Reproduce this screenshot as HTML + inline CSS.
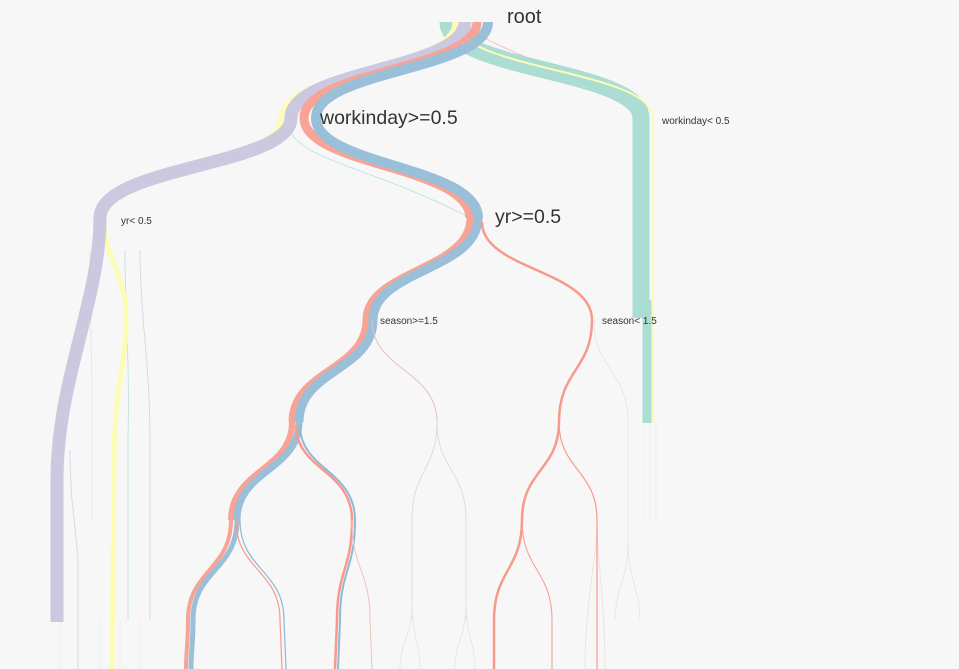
<!DOCTYPE html>
<html><head><style>
html,body{margin:0;padding:0;background:#f7f7f7;}
svg{display:block;}
text{font-family:"Liberation Sans",sans-serif;fill:#333;}
</style></head><body>
<svg width="959" height="669" viewBox="0 0 959 669" xmlns="http://www.w3.org/2000/svg">
<g fill="none" stroke-linecap="butt">
<g stroke-width="1" opacity="0.6">
<path d="M372 320 C372 370,437 370,437 422 C437 470,412 470,412 520 L412 620" stroke="#ccc"/>
<path d="M437 422 C437 470,466 470,466 520 L466 620" stroke="#e8c4c4"/>
<path d="M412 600 C412 640,400 640,400 669 M412 600 C412 640,420 640,420 669 M466 600 C466 640,455 640,455 669 M466 600 C466 640,475 640,475 669" stroke="#ddd"/>
<path d="M594 320 C594 370,628 370,628 422 L628 540 C628 580,615 590,615 620 M628 540 C628 580,640 590,640 620" stroke="#ddd"/>
<path d="M597 520 C597 560,585 600,585 669 M597 520 C597 560,605 600,605 669" stroke="#f0d0d0"/>
<path d="M650 420 L650 520 M656 420 L656 520 M644 420 L644 520" stroke="#e2ecea"/>
<path d="M90 250 C90 300,92 350,92 420 L92 520" stroke="#ddd"/>
<path d="M140 250 C140 320,150 360,150 440 L150 620" stroke="#c7c3de"/>
<path d="M125 250 C125 320,130 360,128 440 L128 620" stroke="#a3dbd0"/>
<path d="M70 450 C70 500,75 520,78 560 L78 669" stroke="#c7c3de"/>
<path d="M100 620 L100 669 M120 620 L120 669 M60 620 L60 669 M140 620 L140 669" stroke="#e6e6e6"/>
<path d="M290 130 C300 160,380 170,470 218" stroke="#a3dbd0"/>
<path d="M470 30 C520 60,600 80,640 118" stroke="#f79a8c"/>
</g>
<g opacity="0.9">
<path d="M448 22 C448 70,641 70,641 118 L641 318" stroke="#a3dbd0" stroke-width="17"/>
<path d="M647 300 L647 423" stroke="#a3dbd0" stroke-width="9"/>
<path d="M457 22 C457 70,653 70,653 118 L653 423" stroke="#fdfdb0" stroke-width="2"/>
<path d="M455 22 C455 70,281 70,281 118 C281 166,104 166,104 218 C104 260,126 270,126 320 C126 370,114 380,114 470 L112 669" stroke="#fdfdb0" stroke-width="5"/>
<path d="M465 22 C465 70,291 70,291 118 C291 166,100 166,100 218 C100 300,57 380,57 480 L57 622" stroke="#c7c3de" stroke-width="13"/>
<!-- red -->
<path d="M477 22 C477 70,304 70,304 118 C304 166,470 166,470 218" stroke="#f79a8c" stroke-width="9"/>
<path d="M470 218 C470 270,366 270,366 320 C366 370,292 370,292 422" stroke="#f79a8c" stroke-width="7"/>
<path d="M292 422 C292 470,231 470,231 520" stroke="#f79a8c" stroke-width="6"/>
<path d="M231 520 C231 570,188 570,188 620 C188 645,186 650,186 669" stroke="#f79a8c" stroke-width="4"/>
<!-- blue -->
<path d="M488 22 C488 70,316 70,316 118 C316 166,478 166,478 218" stroke="#8fb9d6" stroke-width="10"/>
<path d="M478 218 C478 270,373 270,373 320 C373 370,299 370,299 422" stroke="#8fb9d6" stroke-width="9"/>
<path d="M299 422 C299 470,237 470,237 520" stroke="#8fb9d6" stroke-width="7"/>
<path d="M237 520 C237 570,193 570,193 620 C193 645,191 650,191 669" stroke="#8fb9d6" stroke-width="5"/>
</g>
<path d="M482 222 C482 270,592 270,592 320 C592 370,559 370,559 422 C559 470,522 470,522 520 C522 570,494 570,494 620 L494 669" stroke="#f79a8c" stroke-width="2.5"/>
<path d="M559 422 C559 470,597 470,597 520 L597 669" stroke="#f79a8c" stroke-width="1.2"/>
<path d="M522 520 C522 570,552 570,552 620 L552 669" stroke="#f79a8c" stroke-width="1"/>
<path d="M296 425 C296 470,352 470,352 520 C352 570,337 570,337 620 L335 669" stroke="#f79a8c" stroke-width="2.5"/>
<path d="M300 425 C300 470,355 470,355 520 C355 570,340 570,340 620 L338 669" stroke="#8fb9d6" stroke-width="2"/>
<path d="M352 520 C352 570,370 570,370 620 L372 669" stroke="#f0c4bc" stroke-width="1"/>
<path d="M236 520 C236 570,280 570,280 620 L282 669" stroke="#f79a8c" stroke-width="1.2"/>
<path d="M240 520 C240 570,284 570,284 620 L286 669" stroke="#8fb9d6" stroke-width="1.2"/>
<path d="M372 320 C372 370,437 370,437 422" stroke="#e8c4c4" stroke-width="1"/>
</g>
<text x="507" y="23" font-size="20">root</text>
<text x="320" y="124" font-size="19.5">workinday&gt;=0.5</text>
<text x="495" y="223" font-size="19.5">yr&gt;=0.5</text>
<text x="662" y="124" font-size="10">workinday&lt; 0.5</text>
<text x="121" y="224" font-size="10">yr&lt; 0.5</text>
<text x="380" y="324" font-size="10">season&gt;=1.5</text>
<text x="602" y="324" font-size="10">season&lt; 1.5</text>
</svg>
</body></html>
